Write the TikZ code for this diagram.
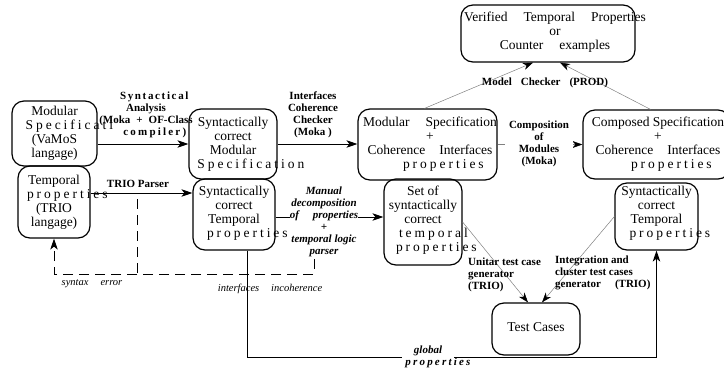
\documentclass[tikz,border=0pt]{standalone}
\usepackage{fontspec}
\setmainfont{Liberation Serif}
\usetikzlibrary{arrows.meta,calc}

% letter-spaced word that keeps the left edge of its normal-width setting
\newcommand\wide[2][22]{{\setbox0\hbox{#2}\makebox[\wd0][l]{\addfontfeature{LetterSpace=#1}#2}}}
\newcommand\gap[1][14pt]{\hspace*{#1}}

\tikzset{
  box/.style={draw, line width=1.2pt, rounded corners=12pt, inner sep=0pt},
  boxtext/.style={align=center, inner sep=0pt, font=\fontsize{13.5}{14}\selectfont},
  lab/.style={align=center, inner sep=0pt, font=\fontsize{11}{12}\selectfont\bfseries},
  blab/.style={lab, font=\fontsize{11}{12}\selectfont\bfseries\itshape},
  ilab/.style={align=center, inner sep=0pt, font=\fontsize{10.5}{12}\selectfont\itshape},
  arr/.style={line width=0.9pt, -{Stealth[length=11pt,width=7.5pt,inset=3pt]}},
  thinarr/.style={draw=gray, line width=0.5pt, -{Stealth[length=10pt,width=7pt,inset=3pt,color=black]}},
  errline/.style={line width=0.9pt, dash pattern=on 10pt off 6pt},
}

\begin{document}
\begin{tikzpicture}[x=1pt,y=-1pt]
\useasboundingbox (0,0) rectangle (724,373);

% boxes
\node[box, minimum width=85pt,  minimum height=65pt] (A) at (54.5,133.5) {};
\node[box, minimum width=72pt,  minimum height=72pt] (B) at (54,202) {};
\node[box, minimum width=88pt,  minimum height=70pt] (C) at (233,144) {};
\node[box, minimum width=82pt,  minimum height=71pt] (D) at (234,214.5) {};
\node[box, minimum width=139pt, minimum height=71pt] (E) at (427.5,144.5) {};
\node[box, minimum width=78pt,  minimum height=86pt] (F) at (423,222) {};
\node[box, minimum width=147pt, minimum height=69pt] (G) at (656.5,144.5) {};
\node[box, minimum width=83pt,  minimum height=67pt] (H) at (656.5,216.5) {};
\node[box, minimum width=174pt, minimum height=57pt] (I) at (548,33.5) {};
\node[box, minimum width=88pt,  minimum height=52pt] (J) at (536,329) {};

% box contents
\node[boxtext] (At) at (54.5,133) {Modular\\\wide{Specificati}\\(VaMoS\\langage)};
\node[boxtext] (Bt) at (54,202.5) {Temporal\\\wide{properties}\\(TRIO\\langage)};
\node[boxtext] (Ct) at (233,144) {Syntactically\\correct\\Modular\\\wide{Specification}};
\node[boxtext] (Dt) at (234,213.5) {Syntactically\\correct\\Temporal\\\wide{properties}};
\node[boxtext] (Et) at (430,144) {Modular\gap[16pt]Specification\\+\\Coherence\gap[14pt]Interfaces\\\wide{properties}};
\node[boxtext] (Ft) at (423,220) {Set of\\syntactically\\correct\\\wide{temporal}\\\wide{properties}};
\node[boxtext] (Gt) at (658,144) {Composed Specification\\+\\Coherence\gap[14pt]Interfaces\\\wide{properties}};
\node[boxtext] (Ht) at (656.5,213) {Syntactically\\correct\\Temporal\\\wide{properties}};
\node[boxtext] (It) at (555,32.5) {Verified\gap[16pt]Temporal\gap[16pt]Properties\\or\\Counter\gap[16pt]examples};
\node[boxtext] (Jt) at (536,327) {Test Cases};

% main flow
\draw[arr] (A.east |- C.west) -- (C.west);
\draw[arr] ([yshift=9pt]B.east) -- ([yshift=9pt]B.east -| D.west);
\draw[arr] (C.east) -- (C.east -| E.west);
\draw[arr] ([yshift=-2.5pt]D.east) -- ([yshift=-2.5pt]D.east -| F.west);
\draw[arr] ([xshift=13pt]D.south) -- ++(0,107) -| (H.south);

% error feedback
\coordinate (e1) at (137,199);
\coordinate (e2) at (314,259);
\coordinate (ej) at (137,274);
\draw[errline] (e1) -- (ej);
\draw[errline, -{Stealth[length=11pt,width=7.5pt,inset=3pt]}]
  (e2) -- (e2 |- ej) -- (B.south |- ej) -- (B.south);

% composition, model checking and test generation
\draw[thinarr] (E.east) -- (G.west);
\draw[thinarr] ([xshift=-3pt]E.north) -- ([xshift=-15pt]I.south);
\draw[thinarr] ([xshift=-6pt]G.north) -- ([xshift=12pt]I.south);
\draw[thinarr] (F.east) -- ([xshift=-8pt]J.north);
\draw[thinarr] (H.west) -- ([xshift=6pt]J.north);

% labels
\node[lab] (l1) at (146,114.5) {\wide[15]{Syntactical}\\Analysis\\(Moka\gap[6pt]+\gap[6pt]OF-Class\\\wide[20]{compiler)}};
\node[lab] (l2) at (138,184) {TRIO Parser};
\node[lab] (l3) at (313,114.5) {Interfaces\\Coherence\\Checker\\(Moka )};
\node[blab, fill=white] (l4) at (324,222) {Manual\\decomposition\\of\gap properties\\+\\temporal logic\\parser};
\node[ilab] (l5) at (92,284) {syntax\gap[12pt]error};
\node[ilab] (l6) at (270,289) {interfaces\gap[12pt]incoherence};
\node[blab, fill=white, inner xsep=3pt] (l7) at (428,356.5) {global\\\wide[20]{properties}};
\node[lab, fill=white, inner xsep=4pt] (l8) at (539,143.5) {Composition\\of\\Modules\\(Moka)};
\node[lab] (l9) at (545,83) {Model\gap[9pt]Checker\gap[9pt](PROD)};
\node[lab, align=left, anchor=west] (l10) at (468,275) {Unitar test case\\generator\\(TRIO)};
\node[lab, align=left, anchor=west] (l11) at (555,273) {Integration and\\cluster test cases\\generator\gap[14pt](TRIO)};
\end{tikzpicture}
\end{document}
